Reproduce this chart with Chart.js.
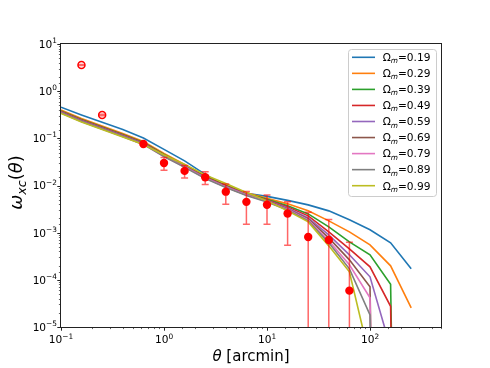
<!DOCTYPE html>
<html>
<head>
<meta charset="utf-8">
<script src="https://cdn.jsdelivr.net/npm/chart.js@4.4.1/dist/chart.umd.min.js"></script>
<style>
  body { margin: 0; background: #fff; }
</style>
</head>
<body>
<canvas id="chart" width="490" height="368"></canvas>
<script>
// model curves, theta grid in arcmin
const modelTheta = [0.1, 0.158, 0.251, 0.398, 0.631, 1.0, 1.585, 2.512, 3.981, 6.31, 10.0, 15.85, 25.12, 39.81, 63.1, 100, 158.5, 251.2];
const omegaM = [0.19, 0.29, 0.39, 0.49, 0.59, 0.69, 0.79, 0.89, 0.99];

// 0 = non-positive value (clipped below the axis like matplotlib does)
const w019 = [0.456, 0.313, 0.219, 0.1544, 0.102, 0.0582, 0.0332, 0.0172, 0.00934, 0.0068, 0.00588, 0.00483, 0.00388, 0.0029, 0.00187, 0.00115, 0.000608, 0.000171];
const w029 = [0.400, 0.264, 0.1831, 0.127, 0.086, 0.0479, 0.028, 0.016, 0.0103, 0.00697, 0.00533, 0.00408, 0.0029, 0.00178, 0.00104, 0.000551, 0.000198, 0.0000255];
const w039 = [0.3806, 0.2514, 0.1744, 0.121, 0.0819, 0.0456, 0.0267, 0.0156, 0.01005, 0.0068, 0.00508, 0.0037, 0.0025, 0.00133, 0.000638, 0.000339, 0.0000803, 0];
const w049 = [0.3714, 0.2454, 0.1702, 0.1181, 0.0799, 0.0445, 0.026, 0.0152, 0.00981, 0.00664, 0.00495, 0.00352, 0.00227, 0.00104, 0.000454, 0.000189, 0.0000275, 0];
const w059 = [0.3625, 0.2395, 0.1661, 0.1152, 0.078, 0.0434, 0.0254, 0.0148, 0.00957, 0.00648, 0.00483, 0.00335, 0.00206, 0.000898, 0.000339, 0.000116, 0.0000036, 0];
const w069 = [0.3537, 0.2337, 0.1621, 0.1124, 0.0761, 0.0424, 0.0248, 0.0145, 0.00934, 0.00632, 0.00472, 0.00319, 0.00196, 0.000776, 0.000265, 0.0000711, 0, 0];
const w079 = [0.3452, 0.2281, 0.1582, 0.1097, 0.0743, 0.0413, 0.0248, 0.0145, 0.00934, 0.00632, 0.0046, 0.00312, 0.00187, 0.00067, 0.000208, 0.0000416, 0, 0];
const w089 = [0.3452, 0.2281, 0.1582, 0.1097, 0.0743, 0.0413, 0.0242, 0.0141, 0.00911, 0.00617, 0.00449, 0.00304, 0.00178, 0.000608, 0.000171, 0.0000181, 0, 0];
const w099 = [0.3369, 0.2225, 0.1544, 0.1071, 0.0743, 0.0445, 0.028, 0.0168, 0.01108, 0.00714, 0.00472, 0.0029, 0.00169, 0.000525, 0.000148, 0.0000021, 0, 0];
const models = [w019, w029, w039, w049, w059, w069, w079, w089, w099];

// measurements
const dataTheta = [0.158, 0.251, 0.631, 1.0, 1.585, 2.512, 3.981, 6.31, 10.0, 15.85, 25.12, 39.81, 63.1];
const dataW = [3.59, 0.313, 0.076, 0.030, 0.0204, 0.015, 0.0074, 0.0045, 0.0039, 0.00254, 0.00081, 0.0007, 0.000059];
const dataErr = [0.1, 0.012, 0.004, 0.009, 0.006, 0.0045, 0.0034, 0.003, 0.0024, 0.002, 0.0019, 0.0012, 0.00057];

const xTicks = [0.1, 1, 10, 100];
const yTicks = [1e-5, 1e-4, 1e-3, 1e-2, 1e-1, 1, 10];

const colors = ['#1f77b4', '#ff7f0e', '#2ca02c', '#d62728', '#9467bd', '#8c564b', '#e377c2', '#7f7f7f', '#bcbd22'];
const FONT = "'DejaVu Sans', sans-serif";
const nOpen = 2; // first two points drawn hollow

const isPow10 = v => Math.abs(Math.log10(v) - Math.round(Math.log10(v))) < 1e-6;

const modelSets = models.map((vals, i) => ({
  label: 'Ωm=' + omegaM[i].toFixed(2),
  data: modelTheta.map((t, k) => ({ x: t, y: vals[k] > 0 ? vals[k] : 1e-30 })),
  borderColor: colors[i],
  backgroundColor: colors[i],
  borderWidth: 1.6,
  pointRadius: 0,
  tension: 0,
  fill: false,
  order: 100 - i,
}));

const dataSet = {
  label: 'data',
  isData: true,
  data: dataTheta.map((t, k) => ({ x: t, y: dataW[k] })),
  showLine: false,
  pointRadius: dataTheta.map((t, k) => k < nOpen ? 3.5 : 4.2),
  pointBackgroundColor: dataTheta.map((t, k) => k < nOpen ? 'rgba(0,0,0,0)' : '#ff0000'),
  pointBorderColor: '#ff0000',
  pointBorderWidth: dataTheta.map((t, k) => k < nOpen ? 1.5 : 0),
  order: 0,
};

// error bars, drawn just before the data markers
const errorBars = {
  id: 'errorBars',
  beforeDatasetDraw(chart, args) {
    if (!chart.data.datasets[args.index].isData) return;
    const { ctx, chartArea, scales: { x, y } } = chart;
    ctx.save();
    ctx.beginPath();
    ctx.rect(chartArea.left, chartArea.top, chartArea.right - chartArea.left, chartArea.bottom - chartArea.top);
    ctx.clip();
    ctx.strokeStyle = 'rgba(255,0,0,0.6)';
    ctx.lineWidth = 1.5;
    dataTheta.forEach((t, k) => {
      const px = x.getPixelForValue(t);
      const hi = dataW[k] + dataErr[k];
      const lo = dataW[k] - dataErr[k];
      const pyHi = y.getPixelForValue(hi);
      const pyLo = lo > 0 ? y.getPixelForValue(lo) : chartArea.bottom + 5;
      ctx.beginPath();
      ctx.moveTo(px, pyHi);
      ctx.lineTo(px, pyLo);
      ctx.moveTo(px - 3.5, pyHi);
      ctx.lineTo(px + 3.5, pyHi);
      if (lo > 0) {
        ctx.moveTo(px - 3.5, pyLo);
        ctx.lineTo(px + 3.5, pyLo);
      }
      ctx.stroke();
    });
    ctx.restore();
  }
};

function drawPow(ctx, exp, xPos, base, align) {
  const main = '10';
  const sup = String(exp).replace('-', '\u2212');
  ctx.font = '10.6px ' + FONT;
  const wMain = ctx.measureText(main).width;
  ctx.font = '7.4px ' + FONT;
  const wSup = ctx.measureText(sup).width;
  const total = wMain + wSup;
  let x0 = align === 'right' ? xPos - total : xPos - total / 2;
  ctx.textAlign = 'left';
  ctx.textBaseline = 'alphabetic';
  ctx.font = '10.6px ' + FONT;
  ctx.fillText(main, x0, base);
  ctx.font = '7.4px ' + FONT;
  ctx.fillText(sup, x0 + wMain, base - 4.8);
}

function drawParts(ctx, parts, cx, base) {
  let total = 0;
  parts.forEach(p => { ctx.font = p.font; p.w = ctx.measureText(p.t).width; total += p.w; });
  let xx = cx - total / 2;
  ctx.textAlign = 'left';
  ctx.textBaseline = 'alphabetic';
  parts.forEach(p => {
    ctx.font = p.font;
    ctx.fillText(p.t, xx, base + (p.dy || 0));
    xx += p.w;
  });
}

// frame, ticks, tick labels, axis titles and legend
const decorations = {
  id: 'decorations',
  afterDraw(chart) {
    const { ctx, chartArea: ca, scales: { x, y } } = chart;
    ctx.save();
    ctx.fillStyle = '#000';
    ctx.strokeStyle = '#222';

    // tick marks
    x.ticks.forEach(t => {
      const px = Math.round(x.getPixelForValue(t.value)) + 0.5;
      if (px < ca.left - 1 || px > ca.right + 1) return;
      const major = isPow10(t.value);
      ctx.lineWidth = major ? 1 : 0.7;
      ctx.beginPath();
      ctx.moveTo(px, ca.bottom);
      ctx.lineTo(px, ca.bottom + (major ? 3.7 : 2.1));
      ctx.stroke();
    });
    y.ticks.forEach(t => {
      const py = Math.round(y.getPixelForValue(t.value)) + 0.5;
      if (py < ca.top - 1 || py > ca.bottom + 1) return;
      const major = isPow10(t.value);
      ctx.lineWidth = major ? 1 : 0.7;
      ctx.beginPath();
      ctx.moveTo(ca.left, py);
      ctx.lineTo(ca.left - (major ? 3.7 : 2.1), py);
      ctx.stroke();
    });

    // frame
    ctx.lineWidth = 1;
    ctx.strokeRect(Math.round(ca.left) - 0.5, Math.round(ca.top) - 0.5,
      Math.round(ca.right - ca.left) + 1, Math.round(ca.bottom - ca.top) + 1);

    // tick labels
    ctx.fillStyle = '#000';
    xTicks.forEach(v => drawPow(ctx, Math.round(Math.log10(v)), x.getPixelForValue(v), ca.bottom + 16.3, 'center'));
    yTicks.forEach(v => drawPow(ctx, Math.round(Math.log10(v)), ca.left - 4, y.getPixelForValue(v) + 3.9, 'right'));

    // x title
    drawParts(ctx, [
      { t: 'θ', font: 'italic 15px ' + FONT },
      { t: ' [arcmin]', font: '15px ' + FONT },
    ], (ca.left + ca.right) / 2, 360.5);

    // y title
    ctx.save();
    ctx.translate(22, (ca.top + ca.bottom) / 2 - 3);
    ctx.rotate(-Math.PI / 2);
    drawParts(ctx, [
      { t: 'ω', font: 'italic 18px ' + FONT },
      { t: 'xc', font: 'italic 12.6px ' + FONT, dy: 4 },
      { t: '(', font: '18px ' + FONT },
      { t: 'θ', font: 'italic 18px ' + FONT },
      { t: ')', font: '18px ' + FONT },
    ], 0, 0);
    ctx.restore();

    // legend
    const lx = 348, ly = 49, lw = 88, lh = 147;
    ctx.beginPath();
    ctx.roundRect(lx + 0.5, ly + 0.5, lw, lh, 3);
    ctx.fillStyle = 'rgba(255,255,255,0.8)';
    ctx.fill();
    ctx.strokeStyle = '#cccccc';
    ctx.lineWidth = 1;
    ctx.stroke();
    omegaM.forEach((om, i) => {
      const cy = 57.3 + 16.05 * i;
      ctx.strokeStyle = colors[i];
      ctx.lineWidth = 1.6;
      ctx.beginPath();
      ctx.moveTo(352, cy);
      ctx.lineTo(375, cy);
      ctx.stroke();
      ctx.fillStyle = '#000';
      ctx.textAlign = 'left';
      ctx.textBaseline = 'alphabetic';
      const base = cy + 3.8;
      let tx = 382.7;
      ctx.font = '10.6px ' + FONT;
      ctx.fillText('Ω', tx, base);
      tx += ctx.measureText('Ω').width;
      ctx.font = 'italic 7.4px ' + FONT;
      ctx.fillText('m', tx, base + 2.2);
      tx += ctx.measureText('m').width;
      ctx.font = '10.6px ' + FONT;
      ctx.fillText('=' + om.toFixed(2), tx, base);
    });
    ctx.restore();
  }
};

new Chart(document.getElementById('chart'), {
  type: 'line',
  data: { datasets: [...modelSets, dataSet] },
  options: {
    responsive: false,
    animation: false,
    devicePixelRatio: 1,
    events: [],
    layout: { padding: { left: 0, top: 44, right: 49, bottom: 0 } },
    plugins: { legend: { display: false }, tooltip: { enabled: false }, title: { display: false } },
    scales: {
      x: {
        type: 'logarithmic',
        position: 'bottom',
        min: 0.1,
        max: 489,
        grid: { display: false },
        border: { display: false },
        ticks: { display: false, autoSkip: false },
        afterFit(scale) { scale.height = 41; },
      },
      y: {
        type: 'logarithmic',
        position: 'left',
        min: 1e-5,
        max: 10,
        grid: { display: false },
        border: { display: false },
        ticks: { display: false, autoSkip: false },
        afterFit(scale) { scale.width = 61; },
      }
    }
  },
  plugins: [errorBars, decorations],
});
</script>
</body>
</html>
